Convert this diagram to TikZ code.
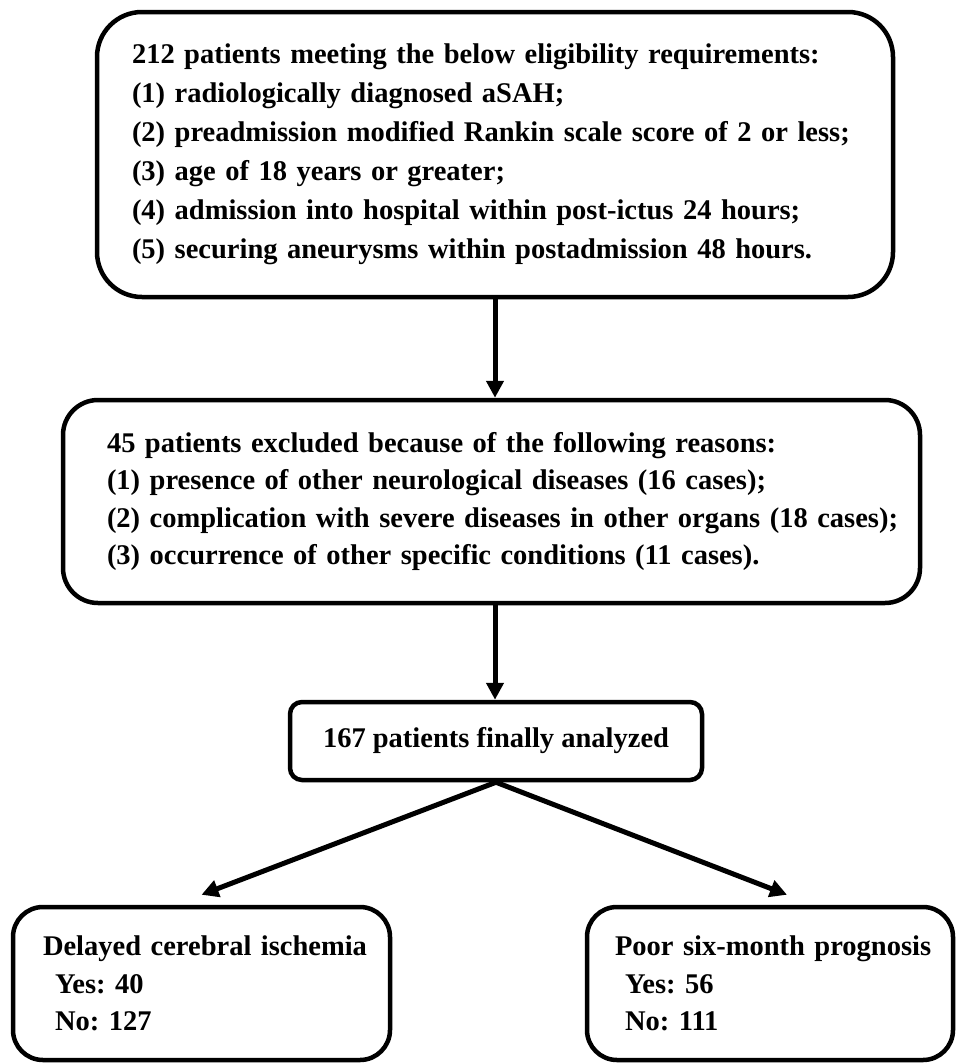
\documentclass[tikz,border=0pt]{standalone}
\usepackage{fontspec}
\setmainfont{Liberation Serif}
\usepackage{tikz}
\usetikzlibrary{arrows.meta, positioning, calc}
\frenchspacing

\begin{document}
\begin{tikzpicture}[x=1pt,y=-1pt,
        bx/.style={draw=black,line width=4.5pt,rounded corners=#1,
                   font=\bfseries\fontsize{28.5}{37.5}\selectfont,align=left,
                   inner ysep=0pt,inner xsep=0pt},
        bx/.default=40pt,
        arr/.style={draw=black,line width=5pt,
                    -{Triangle[length=17pt,width=17pt]}}
      ]
        \useasboundingbox (0,0) rectangle (957,1063);
        \node[bx=45pt,minimum width=796pt,minimum height=285pt,
              text width=726pt,font=\bfseries\fontsize{28.5}{39}\selectfont]
              (elig) at (495,154.5)
              {212 patients meeting the below eligibility requirements:\\
               (1) radiologically diagnosed aSAH;\\
               (2) preadmission modified Rankin scale score of 2 or less;\\
               (3) age of 18 years or greater;\\
               (4) admission into hospital within post-ictus 24 hours;\\
               (5) securing aneurysms within postadmission 48 hours.};
        \node[bx=35pt,minimum width=857pt,minimum height=203pt,
              text width=769pt] (excl) at (491.5,501.5)
              {45 patients excluded because of the following reasons:\\
               (1) presence of other neurological diseases (16 cases);\\
               \mbox{(2) complication with severe diseases in other organs (18 cases);}\\
               (3) occurrence of other specific conditions (11 cases).};
        \node[bx=12pt,minimum width=412pt,minimum height=78pt,
              align=center] (fin) at (496,741)
              {167 patients finally analyzed};
        \node[bx=30pt,minimum width=377pt,minimum height=153pt,
              text width=317pt] (dci) at (201.5,983.5)
              {\mbox{Delayed cerebral ischemia}\\
               \hspace*{12pt}Yes: 40\\
               \hspace*{12pt}No: 127};
        \node[bx=30pt,minimum width=366pt,minimum height=153pt,
              text width=310pt] (prog) at (770,983.5)
              {\mbox{Poor six-month prognosis}\\
               \hspace*{10pt}Yes: 56\\
               \hspace*{10pt}No: 111};
        \draw[arr] (elig.south) -- (elig.south |- excl.north);
        \draw[arr] (excl.south -| elig.south) -- (elig.south |- fin.north);
        \draw[arr] (fin.south) -- ([yshift=10pt]dci.north);
        \draw[arr] (fin.south) -- ([shift={(17pt,10pt)}]prog.north);
      \end{tikzpicture}
\end{document}
